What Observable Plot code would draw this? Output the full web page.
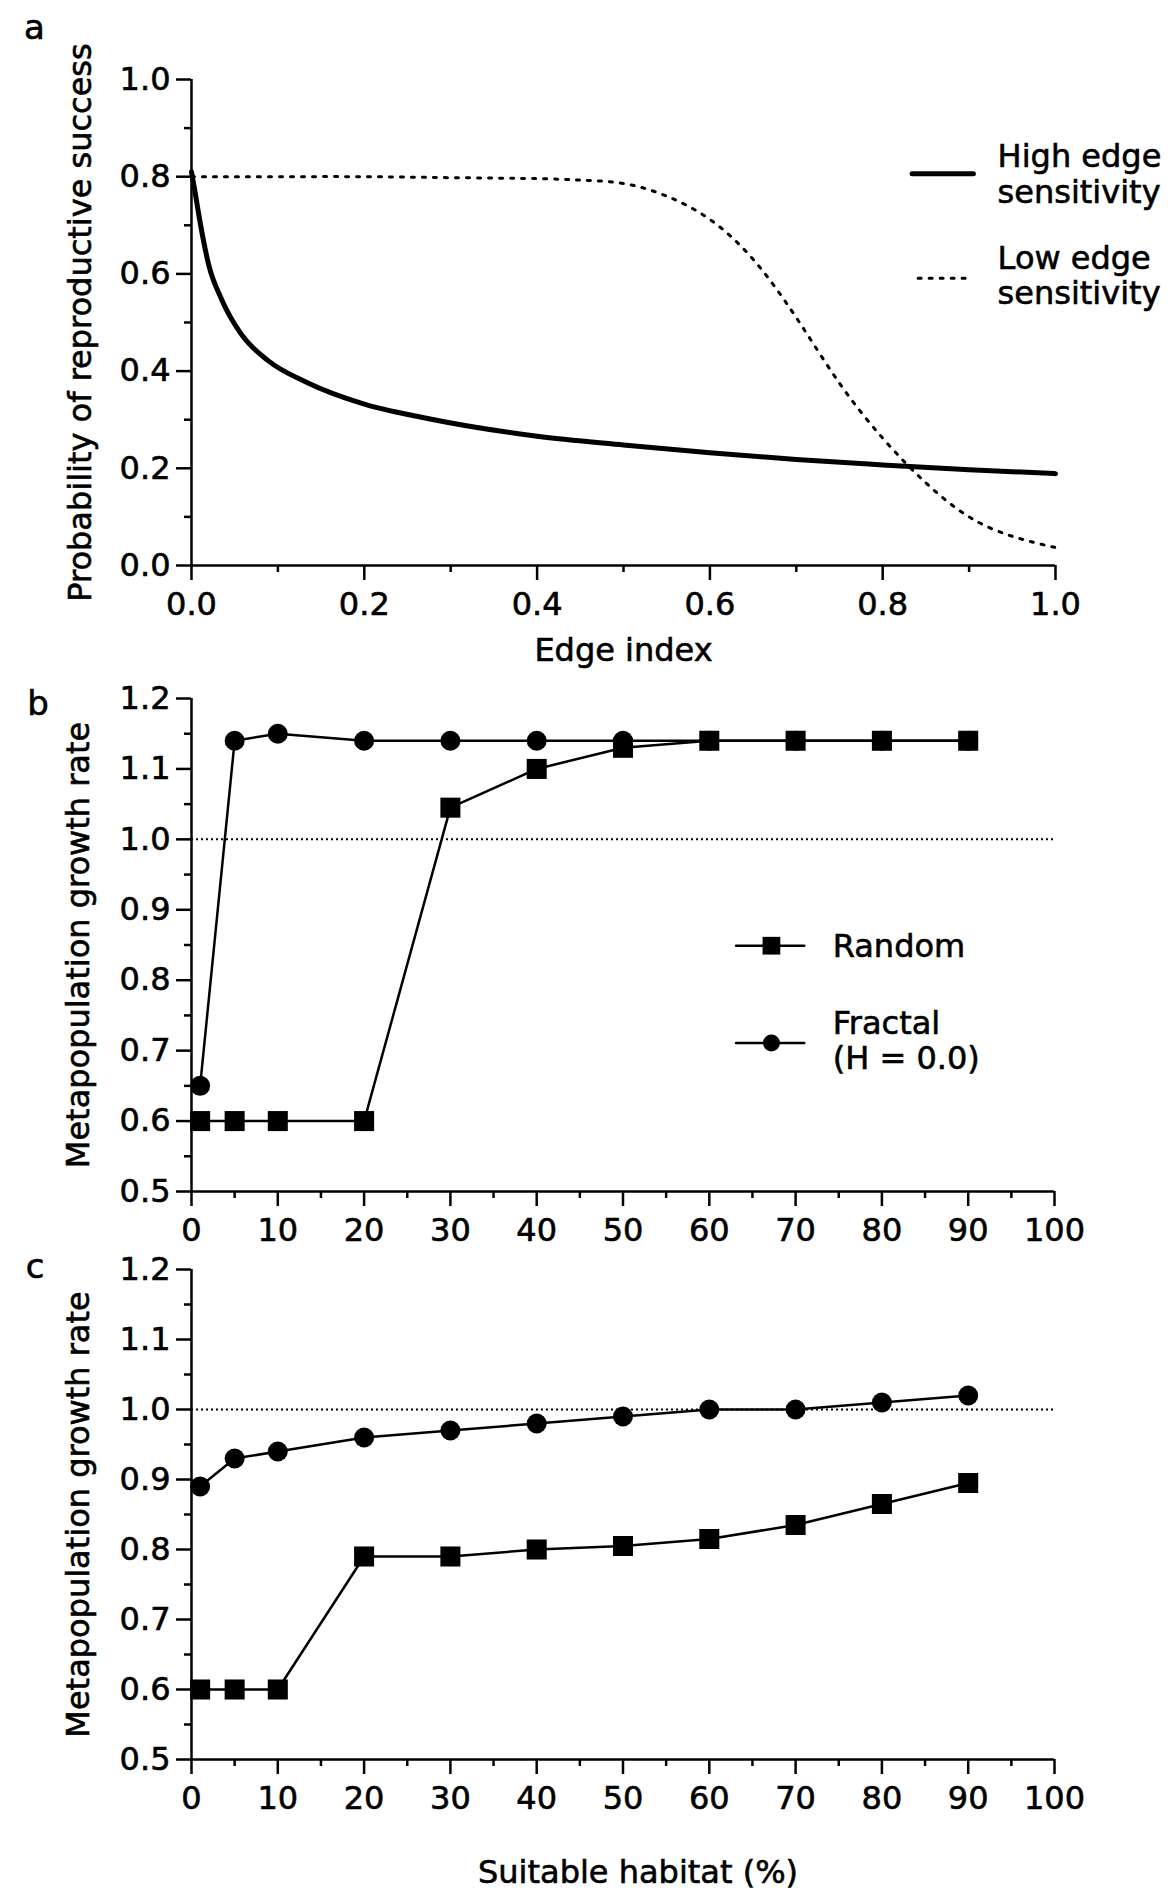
<!DOCTYPE html>
<html>
<head>
<meta charset="utf-8">
<script src="https://cdn.jsdelivr.net/npm/d3@7"></script>
<script src="https://cdn.jsdelivr.net/npm/@observablehq/plot@0.6"></script>
<style>
  html, body { margin: 0; padding: 0; background: #fff; }
  #chart { width: 1172px; }
  #chart svg { display: block; }
  #chart svg text { stroke: #000; stroke-width: 0.6px; }
</style>
</head>
<body>
<div id="chart"></div>
<script>
// ---------- Panel a data ----------
const edgeHighX = [0, 0.004, 0.009, 0.02, 0.035, 0.058, 0.089, 0.133, 0.2, 0.266, 0.4, 0.5, 0.6, 0.7, 0.8, 0.9, 1.0];
const edgeHighY = [0.81, 0.77, 0.716, 0.618, 0.547, 0.475, 0.421, 0.377, 0.332, 0.305, 0.266, 0.248, 0.232, 0.218, 0.207, 0.197, 0.189];
const edgeLowX = [0, 0.1, 0.2, 0.3, 0.4, 0.45, 0.5, 0.55, 0.6, 0.65, 0.7, 0.75, 0.8, 0.85, 0.9, 0.95, 1.0];
const edgeLowY = [0.80, 0.80, 0.80, 0.798, 0.796, 0.793, 0.786, 0.76, 0.712, 0.63, 0.51, 0.375, 0.262, 0.17, 0.10, 0.06, 0.037];
const edgeTicks = [0, 0.2, 0.4, 0.6, 0.8, 1.0];
const edgeMinor = [0.1, 0.3, 0.5, 0.7, 0.9];

// ---------- Panels b and c data ----------
const habitat = [1, 5, 10, 20, 30, 40, 50, 60, 70, 80, 90];
const bRandom = [0.60, 0.60, 0.60, 0.60, 1.045, 1.10, 1.13, 1.14, 1.14, 1.14, 1.14];
const bFractal = [0.65, 1.14, 1.15, 1.14, 1.14, 1.14, 1.14, 1.14, 1.14, 1.14, 1.14];
const cRandom = [0.60, 0.60, 0.60, 0.79, 0.79, 0.80, 0.805, 0.815, 0.835, 0.865, 0.895];
const cFractal = [0.89, 0.93, 0.94, 0.96, 0.97, 0.98, 0.99, 1.00, 1.00, 1.01, 1.02];
const habitatTicks = [0, 10, 20, 30, 40, 50, 60, 70, 80, 90, 100];
const habitatMinor = [5, 15, 25, 35, 45, 55, 65, 75, 85, 95];
const growthTicks = [0.5, 0.6, 0.7, 0.8, 0.9, 1.0, 1.1, 1.2];
const growthMinor = [0.55, 0.65, 0.75, 0.85, 0.95, 1.05, 1.15];

const FONT = "DejaVu Sans, Verdana, sans-serif";
const FS = 32;
const zipXY = (xs, ys) => xs.map((x, i) => ({x, y: ys[i]}));
const fmt1 = d3.format(".1f");

function axes(xTicks, xMinor, yTicks, yMinor, xFmt, yFmt, x0, y0) {
  return [
    Plot.axisY(yTicks, {tickSize: 15, tickPadding: 6, strokeWidth: 2.5, tickFormat: yFmt, label: null, fontSize: FS}),
    Plot.axisY(yMinor, {tickSize: 7, strokeWidth: 2.5, tickFormat: () => "", label: null}),
    Plot.axisX(xTicks, {tickSize: 15, tickPadding: 12, strokeWidth: 2.5, tickFormat: xFmt, label: null, fontSize: FS}),
    Plot.axisX(xMinor, {tickSize: 7, strokeWidth: 2.5, tickFormat: () => "", label: null}),
    Plot.ruleX([x0], {strokeWidth: 2.5}),
    Plot.ruleY([y0], {strokeWidth: 2.5})
  ];
}

const baseStyle = {fontFamily: FONT, fontSize: FS + "px", color: "#000", background: "#fff", overflow: "visible"};

// ---------- Panel a ----------
const high = zipXY(edgeHighX, edgeHighY);
const low = zipXY(edgeLowX, edgeLowY);
const plotA = Plot.plot({
  width: 1172, height: 670,
  marginLeft: 191, marginRight: 117, marginTop: 79, marginBottom: 105,
  x: {domain: [0, 1]}, y: {domain: [0, 1]},
  style: baseStyle,
  marks: [
    Plot.line(low, {x: "x", y: "y", stroke: "#000", strokeWidth: 3, strokeDasharray: "3,8", curve: "natural"}),
    Plot.line(high, {x: "x", y: "y", stroke: "#000", strokeWidth: 5, curve: "monotone-x"}),
    ...axes(edgeTicks, edgeMinor, edgeTicks, edgeMinor, fmt1, fmt1, 0, 0),
    // legend
    Plot.line([{x: 0.834, y: 0.806}, {x: 0.905, y: 0.806}], {x: "x", y: "y", strokeWidth: 5}),
    Plot.line([{x: 0.841, y: 0.591}, {x: 0.900, y: 0.591}], {x: "x", y: "y", strokeWidth: 3, strokeDasharray: "3,8"}),
    Plot.text([{x: 0.933, y: 0.806, t: "High edge\nsensitivity"}, {x: 0.933, y: 0.597, t: "Low edge\nsensitivity"}],
      {x: "x", y: "y", text: "t", textAnchor: "start", lineAnchor: "middle", lineHeight: 1.1, fontSize: FS, fill: "#000"}),
    // titles
    Plot.text(["Probability of reproductive success"], {frameAnchor: "left", dx: -111, rotate: -90, textAnchor: "middle", lineAnchor: "middle", fontSize: FS, fill: "#000"}),
    Plot.text(["Edge index"], {frameAnchor: "bottom", dy: 85, textAnchor: "middle", lineAnchor: "middle", fontSize: FS, fill: "#000"}),
    Plot.text(["a"], {frameAnchor: "top-left", dx: -157, dy: -51, textAnchor: "middle", lineAnchor: "middle", fontSize: 34, fill: "#000"})
  ]
});

// ---------- Panels b, c helper ----------
function growthPanel(random, fractal, opts) {
  const r = zipXY(habitat, random);
  const f = zipXY(habitat, fractal);
  const marks = [
    Plot.ruleY([1.0], {stroke: "#000", strokeWidth: 2, strokeDasharray: "2,3"}),
    Plot.line(f, {x: "x", y: "y", stroke: "#000", strokeWidth: 2.5}),
    Plot.line(r, {x: "x", y: "y", stroke: "#000", strokeWidth: 2.5}),
    Plot.dot(f, {x: "x", y: "y", r: 10, fill: "#000", symbol: "circle"}),
    Plot.dot(r, {x: "x", y: "y", r: 11.3, fill: "#000", symbol: "square"}),
    ...axes(habitatTicks, habitatMinor, growthTicks, growthMinor, d3.format("d"), fmt1, 0, 0.5),
    Plot.text(["Metapopulation growth rate"], {frameAnchor: "left", dx: -113, rotate: -90, textAnchor: "middle", lineAnchor: "middle", fontSize: FS, fill: "#000"}),
    Plot.text([opts.letter], {frameAnchor: "top-left", dx: opts.ldx, dy: opts.ldy, textAnchor: "middle", lineAnchor: "middle", fontSize: 34, fill: "#000"})
  ];
  if (opts.legend) {
    marks.push(
      Plot.line([{x: 63.1, y: 0.849}, {x: 71.0, y: 0.849}], {x: "x", y: "y", strokeWidth: 2.5}),
      Plot.dot([{x: 67.2, y: 0.849}], {x: "x", y: "y", r: 10, fill: "#000", symbol: "square"}),
      Plot.line([{x: 63.1, y: 0.711}, {x: 71.0, y: 0.711}], {x: "x", y: "y", strokeWidth: 2.5}),
      Plot.dot([{x: 67.2, y: 0.711}], {x: "x", y: "y", r: 8.5, fill: "#000", symbol: "circle"}),
      Plot.text([{x: 74.3, y: 0.849, t: "Random"}, {x: 74.3, y: 0.715, t: "Fractal\n(H = 0.0)"}],
        {x: "x", y: "y", text: "t", textAnchor: "start", lineAnchor: "middle", lineHeight: 1.12, fontSize: FS, fill: "#000"})
    );
  }
  if (opts.xlabel) {
    marks.push(Plot.text([opts.xlabel], {frameAnchor: "bottom", dx: 15, dy: 113, textAnchor: "middle", lineAnchor: "middle", fontSize: FS, fill: "#000"}));
  }
  return Plot.plot({
    width: 1172, height: opts.height,
    marginLeft: 191, marginRight: 118, marginTop: opts.mt, marginBottom: opts.mb,
    x: {domain: [0, 100]}, y: {domain: [0.5, 1.2]},
    style: baseStyle,
    marks
  });
}

const plotB = growthPanel(bRandom, bFractal, {height: 585, mt: 28, mb: 64, letter: "b", ldx: -153.5, ldy: 6, legend: true});
const plotC = growthPanel(cRandom, cFractal, {height: 639, mt: 14, mb: 135, letter: "c", ldx: -156.5, ldy: -2, xlabel: "Suitable habitat (%)"});

const chart = document.getElementById("chart");
chart.append(plotA, plotB, plotC);
</script>
</body>
</html>
